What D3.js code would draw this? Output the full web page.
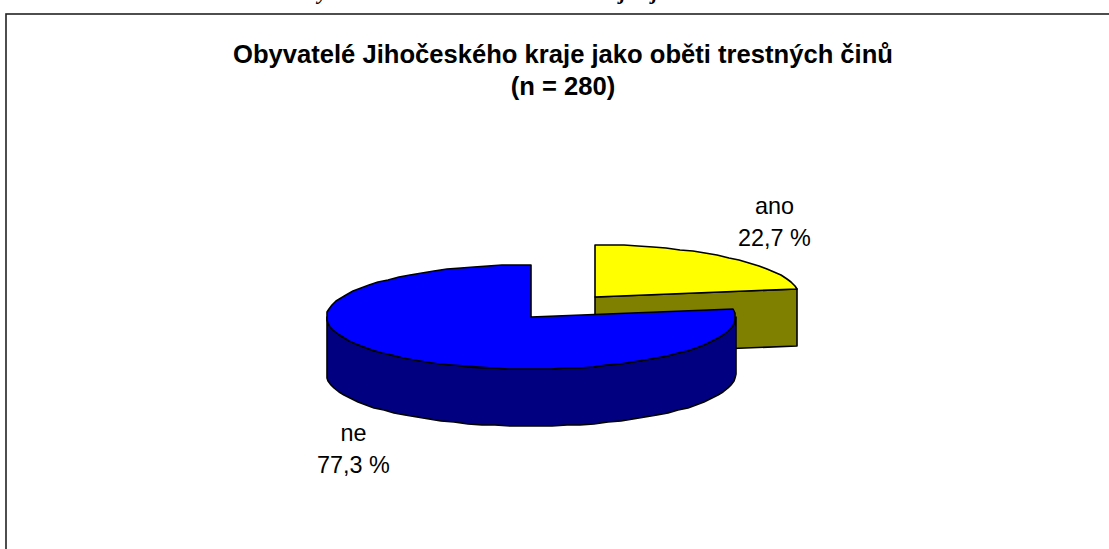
<!DOCTYPE html>
<html><head><meta charset="utf-8">
<script src="https://cdn.jsdelivr.net/npm/d3@7"></script>
<style>html,body{margin:0;padding:0;background:#fff;overflow:hidden}svg{display:block}text{font-family:"Liberation Sans",Arial,sans-serif;fill:#000}</style>
</head><body><svg id="c" width="1109" height="549"></svg>
<script>
const titleLines = ["Obyvatelé Jihočeského kraje jako oběti trestných činů", "(n = 280)"];
const categories = ["ano", "ne"];
const values = [22.7, 77.3];
const valueLabels = ["22,7 %", "77,3 %"];
const topColors = ["#ffff00", "#0000ff"];
const sideColors = ["#808000", "#000080"];
const clippedGlyphs = ["y", "j", "j"];
const clippedGlyphX = [318, 620, 652];

const W = 1109, H = 549;
const svg = d3.select("#c");
svg.append("rect").attr("x",6).attr("y",14).attr("width",W+20).attr("height",H+20).attr("fill","#fff").attr("stroke","#222").attr("stroke-width",1.6);
clippedGlyphs.forEach((g,i)=>svg.append("text").attr("x",clippedGlyphX[i]).attr("y",-1).attr("font-size",21).attr("font-style","italic").attr("font-weight","bold").style("font-family","'Liberation Serif',serif").text(g));

const rx = 204.5, tilt = 0.255, depth = 57;
const centers = [[595,297],[531,317]];
const labelPos = [[774.5,214],[353.5,441]];
const arcs = d3.pie().sort(null).value(d=>d)(values);
const pt = (c,a,dy=0)=>[Math.round(c[0]+rx*Math.sin(a)), Math.round(c[1]-rx*tilt*Math.cos(a)+dy)];
const line = d3.line();
const sample = (c,a0,a1,dy=0)=>{const n=Math.max(2,Math.round(Math.abs(a1-a0)/0.07));return d3.range(0,n+1).map(i=>pt(c,a0+(a1-a0)*i/n,dy));};
const stroke = g=>g.attr("stroke","#000").attr("stroke-width",1.6).attr("stroke-linejoin","round");

{
  const c = centers[0], a = arcs[0], e = pt(c,a.endAngle);
  svg.append("path").attr("d",line([c,e,[e[0],e[1]+depth],[c[0],c[1]+depth]])+"Z").attr("fill",sideColors[0]).call(stroke);
  svg.append("path").attr("d",line([c,...sample(c,a.startAngle,a.endAngle)])+"Z").attr("fill",topColors[0]).call(stroke);
}
{
  const c = centers[1], a = arcs[1], rimEnd = 1.5*Math.PI;
  const rimTop = sample(c,Math.PI/2,rimEnd), rimBot = sample(c,Math.PI/2,rimEnd,depth).reverse();
  svg.append("path").attr("d",line([...rimTop,...rimBot])+"Z").attr("fill",sideColors[1]).call(stroke);
  svg.append("path").attr("d",line([c,...sample(c,a.startAngle,a.endAngle)])+"Z").attr("fill",topColors[1]).call(stroke);
}
const title = svg.append("text").attr("text-anchor","middle").attr("font-weight","bold").attr("font-size",25.6);
titleLines.forEach((t,i)=>title.append("tspan").attr("x",563).attr("y",63+i*32).text(t));
categories.forEach((cat,i)=>{
  const t = svg.append("text").attr("text-anchor","middle").attr("font-size",23.4);
  t.append("tspan").attr("x",labelPos[i][0]).attr("y",labelPos[i][1]).text(cat);
  t.append("tspan").attr("x",labelPos[i][0]).attr("y",labelPos[i][1]+32).text(valueLabels[i]);
});
</script></body></html>
